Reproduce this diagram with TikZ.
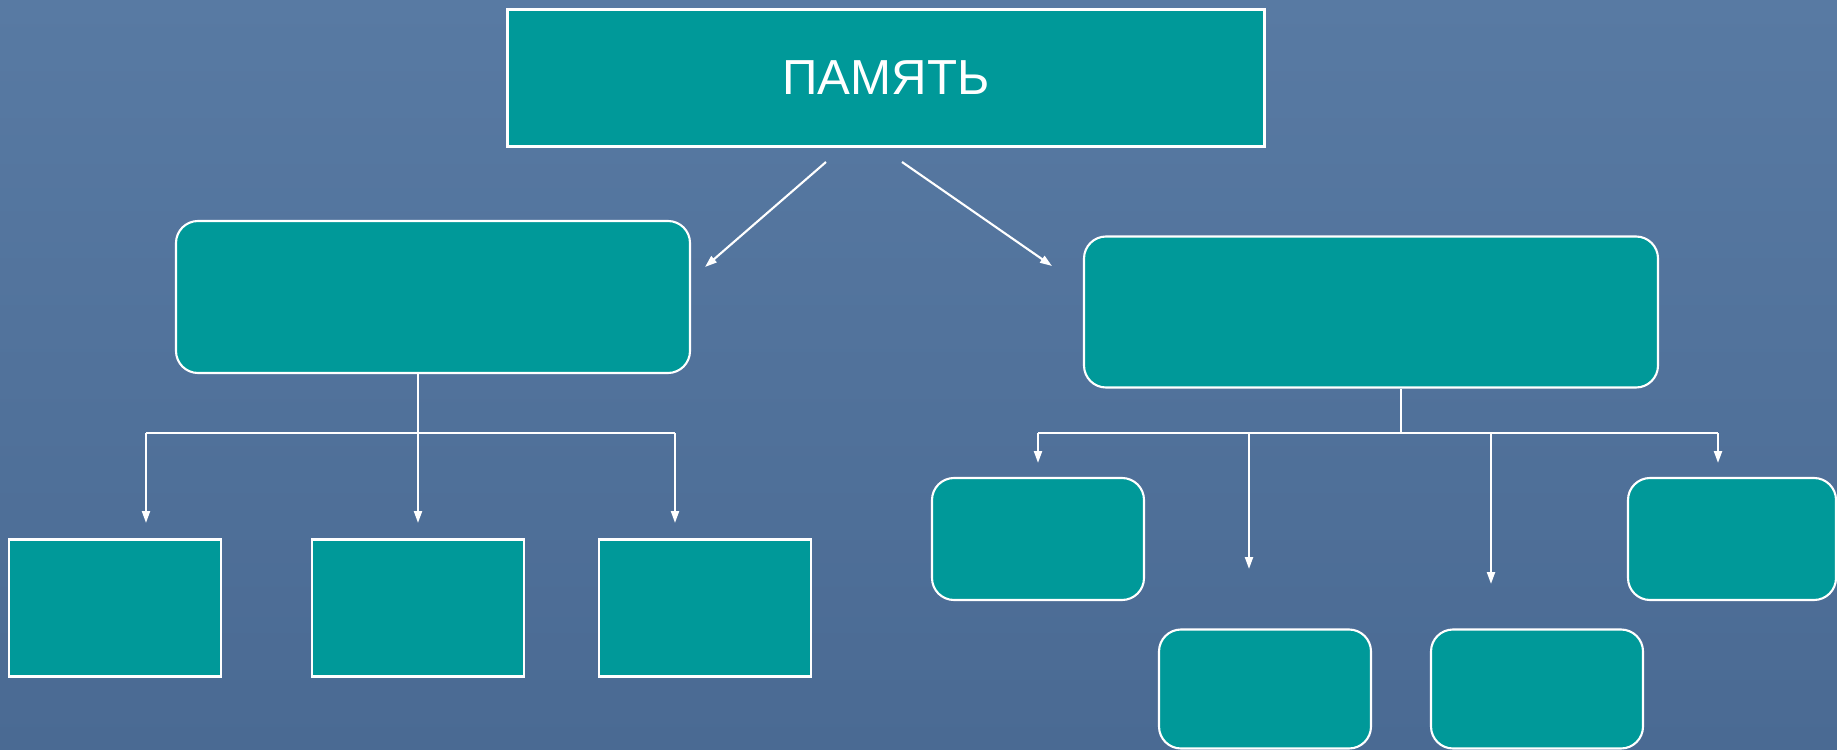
\documentclass[tikz,border=0pt]{standalone}
\usepackage{fontspec}
\setmainfont{Liberation Sans}
\usetikzlibrary{arrows.meta}
\definecolor{slidetop}{RGB}{88,122,163}
\definecolor{slidebot}{RGB}{74,106,147}
\definecolor{boxteal}{RGB}{0,153,153}
\begin{document}
\begin{tikzpicture}[x=0.1mm,y=-0.1mm,
% common options for the boxes:
sqbox/.style = {draw=white, fill=boxteal, line width=0.6pt, inner sep=0},
rbox/.style = {sqbox, rounded corners=2.2mm},
% common options for the connectors:
link/.style = {draw=white, line width=0.6pt},
arr/.style = {link, -{Triangle[length=1.2mm,width=0.8mm]}}]
\useasboundingbox (0,0) rectangle (1837,750);
\shade[top color=slidetop, bottom color=slidebot] (0,0) rectangle (1837,750);
\node[sqbox,minimum width=75.7mm,minimum height=13.7mm,text=white,
      font=\fontsize{14}{16}\selectfont] (mem) at (886,78) {ПАМЯТЬ};
\node[rbox,minimum width=51.4mm,minimum height=15.2mm] (memL) at (433,297) {};
\node[rbox,minimum width=57.4mm,minimum height=15.1mm] (memR) at (1371,312) {};
\node[sqbox,minimum width=21.2mm,minimum height=13.7mm] (L1) at (115,608) {};
\node[sqbox,minimum width=21.2mm,minimum height=13.7mm] (L2) at (418,608) {};
\node[sqbox,minimum width=21.2mm,minimum height=13.7mm] (L3) at (705,608) {};
\node[rbox,minimum width=21.2mm,minimum height=12.2mm] (R1) at (1038,539) {};
\node[rbox,minimum width=21.2mm,minimum height=11.9mm] (R2) at (1265,689) {};
\node[rbox,minimum width=21.2mm,minimum height=11.9mm] (R3) at (1537,689) {};
\node[rbox,minimum width=20.8mm,minimum height=12.2mm] (R4) at (1732,539) {};
% arrows from the top box
\coordinate (m1) at (826,162);
\coordinate (m1e) at (705,267);
\coordinate (m2) at (902,162);
\coordinate (m2e) at (1052,266);
\draw[arr] (m1) -- (m1e);
\draw[arr] (m2) -- (m2e);
% left branch
\coordinate (lbus) at (418,433);
\coordinate (lt1) at (146,523);
\coordinate (lt2) at (418,523);
\coordinate (lt3) at (675,523);
\draw[link] (lt1 |- lbus) -- (lt3 |- lbus);
\draw[arr] (memL.south -| lbus) -- (lt2);
\draw[arr] (lt1 |- lbus) -- (lt1);
\draw[arr] (lt3 |- lbus) -- (lt3);
% right branch
\coordinate (rbus) at (1401,433);
\coordinate (rt1) at (1038,463);
\coordinate (rt2) at (1249,569);
\coordinate (rt3) at (1491,584);
\coordinate (rt4) at (1718,463);
\draw[link] (memR.south -| rbus) -- (rbus);
\draw[link] (rt1 |- rbus) -- (rt4 |- rbus);
\draw[arr] (rt1 |- rbus) -- (rt1);
\draw[arr] (rt2 |- rbus) -- (rt2);
\draw[arr] (rt3 |- rbus) -- (rt3);
\draw[arr] (rt4 |- rbus) -- (rt4);
\end{tikzpicture}
\end{document}
